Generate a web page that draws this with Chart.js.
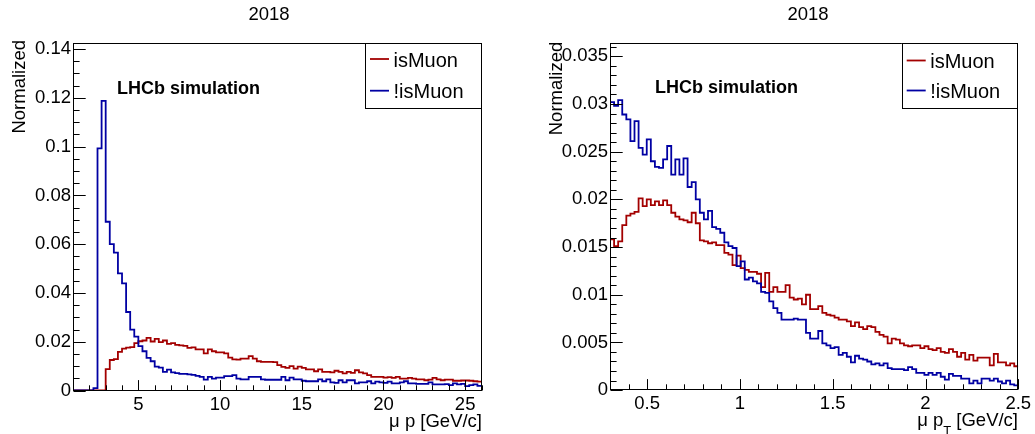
<!DOCTYPE html>
<html>
<head>
<meta charset="utf-8">
<script src="https://cdn.jsdelivr.net/npm/chart.js@4.4.1/dist/chart.umd.min.js"></script>
<style>
  html, body { margin: 0; padding: 0; background: #ffffff; }
  #wrap { position: relative; width: 1035px; height: 434px; overflow: hidden; }
  #cp  { position: absolute; left: 0;     top: 0; }
  #cpt { position: absolute; left: 517px; top: 0; }
</style>
</head>
<body>
<div id="wrap">
  <canvas id="cp" width="517" height="434"></canvas>
  <canvas id="cpt" width="518" height="434"></canvas>
</div>
<script>
// ---- muon momentum p [GeV/c]: 100 bins between the two edges ----
const pBinRange = [1, 26];
const pIsMuon = [
  0, 0, 0, 0, 0, 0, 0, 0, 0.0088, 0.0125,
  0.0129, 0.0158, 0.0172, 0.0176, 0.0178, 0.0194, 0.0202, 0.0205, 0.0216, 0.0201,
  0.0212, 0.0198, 0.0205, 0.0191, 0.0194, 0.0187, 0.0185, 0.0183, 0.0175, 0.0177,
  0.0169, 0.0169, 0.0152, 0.0169, 0.0161, 0.0156, 0.0156, 0.0152, 0.0135, 0.0128,
  0.0127, 0.0131, 0.0131, 0.0141, 0.0131, 0.0120, 0.0117, 0.0117, 0.0117, 0.0116,
  0.0104, 0.0097, 0.0093, 0.0100, 0.0090, 0.0098, 0.0093, 0.0087, 0.0087, 0.0079,
  0.0087, 0.0076, 0.0076, 0.0074, 0.0081, 0.0076, 0.0070, 0.0076, 0.0072, 0.0083,
  0.0074, 0.0070, 0.0063, 0.0056, 0.0056, 0.0056, 0.0053, 0.0055, 0.0052, 0.0056,
  0.0049, 0.0049, 0.0052, 0.0049, 0.0046, 0.0046, 0.0042, 0.0045, 0.0052, 0.0046,
  0.0042, 0.0045, 0.0045, 0.0040, 0.0040, 0.0041, 0.0041, 0.0040, 0.0038, 0.0036
];
const pNotIsMuon = [
  0, 0, 0, 0, 0, 0.0010, 0.0993, 0.1188, 0.0692, 0.0600,
  0.0565, 0.0480, 0.0439, 0.0322, 0.0250, 0.0221, 0.0182, 0.0161, 0.0134, 0.0120,
  0.0098, 0.0094, 0.0076, 0.0086, 0.0074, 0.0071, 0.0068, 0.0068, 0.0066, 0.0064,
  0.0060, 0.0056, 0.0045, 0.0056, 0.0049, 0.0053, 0.0053, 0.0059, 0.0059, 0.0063,
  0.0049, 0.0046, 0.0046, 0.0056, 0.0056, 0.0056, 0.0046, 0.0044, 0.0044, 0.0044,
  0.0044, 0.0056, 0.0042, 0.0053, 0.0046, 0.0046, 0.0040, 0.0038, 0.0038, 0.0038,
  0.0046, 0.0038, 0.0046, 0.0033, 0.0031, 0.0042, 0.0033, 0.0042, 0.0042, 0.0029,
  0.0033, 0.0033, 0.0038, 0.0029, 0.0036, 0.0033, 0.0031, 0.0036, 0.0029, 0.0029,
  0.0033, 0.0038, 0.0029, 0.0029, 0.0027, 0.0027, 0.0027, 0.0033, 0.0025, 0.0025,
  0.0025, 0.0026, 0.0022, 0.0029, 0.0025, 0.0027, 0.0018, 0.0022, 0.0025, 0.0019
];
const pXTicks = [5, 10, 15, 20, 25];
const pXTickLabels = ['5', '10', '15', '20', '25'];
const pYTicks = [0, 0.02, 0.04, 0.06, 0.08, 0.10, 0.12, 0.14];
const pYTickLabels = ['0', '0.02', '0.04', '0.06', '0.08', '0.1', '0.12', '0.14'];

// ---- muon transverse momentum pT [GeV/c]: 100 bins between the two edges ----
const ptBinRange = [0.3, 2.5];
const ptIsMuon = [
  0.0158, 0.0151, 0.0156, 0.0173, 0.0183, 0.0185, 0.0187, 0.0201, 0.0193, 0.0200,
  0.0194, 0.0198, 0.0194, 0.0199, 0.0194, 0.0186, 0.0182, 0.0179, 0.0178, 0.0176,
  0.0186, 0.0175, 0.0157, 0.0156, 0.0154, 0.0155, 0.0152, 0.0152, 0.0144, 0.0142,
  0.0131, 0.0141, 0.0128, 0.0126, 0.0124, 0.0124, 0.0122, 0.0108, 0.0123, 0.0103,
  0.0108, 0.0103, 0.0103, 0.0110, 0.0097, 0.0095, 0.0096, 0.0090, 0.0100, 0.0085,
  0.0085, 0.0088, 0.0081, 0.0079, 0.0078, 0.0076, 0.0074, 0.0074, 0.0072, 0.0067,
  0.0071, 0.0066, 0.0064, 0.0067, 0.0066, 0.0061, 0.0058, 0.0056, 0.0049, 0.0054,
  0.0053, 0.0049, 0.0047, 0.0046, 0.0047, 0.0047, 0.0044, 0.0046, 0.0043, 0.0042,
  0.0044, 0.0040, 0.0039, 0.0043, 0.0040, 0.0035, 0.0039, 0.0032, 0.0037, 0.0031,
  0.0034, 0.0034, 0.0034, 0.0026, 0.0038, 0.0029, 0.0029, 0.0026, 0.0028, 0.0025
];
const ptNotIsMuon = [
  0.0302, 0.0298, 0.0304, 0.0289, 0.0284, 0.0261, 0.0282, 0.0254, 0.0247, 0.0263,
  0.0240, 0.0234, 0.0233, 0.0242, 0.0256, 0.0226, 0.0242, 0.0226, 0.0243, 0.0213,
  0.0218, 0.0200, 0.0186, 0.0179, 0.0188, 0.0171, 0.0169, 0.0165, 0.0155, 0.0151,
  0.0149, 0.0130, 0.0135, 0.0116, 0.0118, 0.0114, 0.0112, 0.0103, 0.0102, 0.0093,
  0.0086, 0.0081, 0.0074, 0.0074, 0.0074, 0.0075, 0.0074, 0.0074, 0.0060, 0.0054,
  0.0054, 0.0062, 0.0049, 0.0047, 0.0044, 0.0045, 0.0037, 0.0039, 0.0035, 0.0029,
  0.0036, 0.0033, 0.0032, 0.0030, 0.0027, 0.0028, 0.0026, 0.0028, 0.0023, 0.0022,
  0.0022, 0.0022, 0.0021, 0.0024, 0.0022, 0.0018, 0.0018, 0.0016, 0.0018, 0.0016,
  0.0018, 0.0014, 0.0011, 0.0017, 0.0015, 0.0015, 0.0012, 0.0012, 0.0007, 0.0010,
  0.0007, 0.0012, 0.0012, 0.0010, 0.0012, 0.0009, 0.0007, 0.0010, 0.0006, 0.0005
];
const ptXTicks = [0.5, 1, 1.5, 2, 2.5];
const ptXTickLabels = ['0.5', '1', '1.5', '2', '2.5'];
const ptYTicks = [0, 0.005, 0.01, 0.015, 0.02, 0.025, 0.03, 0.035];
const ptYTickLabels = ['0', '0.005', '0.01', '0.015', '0.02', '0.025', '0.03', '0.035'];

const seriesLabels = ['isMuon', '!isMuon'];
const panelTitle = '2018';
const yTitle = 'Normalized';
const stampText = 'LHCb simulation';

// ---- styling ----
const FONT = '"Liberation Sans", Arial, Helvetica, sans-serif';
const RED = '#a30000';
const BLUE = '#0000a3';
const HIST_WIDTH = 1.8;

// Histogram outline: one point at each bin's low edge plus the upper edge.
function stepPoints(values, range) {
  const n = values.length;
  const w = (range[1] - range[0]) / n;
  const pts = values.map((v, i) => ({ x: range[0] + i * w, y: v }));
  pts.push({ x: range[1], y: values[n - 1] });
  return pts;
}

// Major and minor tick values along an axis.
function tickMarks(majors, div, min, max) {
  const step = (majors[1] - majors[0]) / div;
  const k0 = Math.ceil((min - majors[0]) / step - 1e-6);
  const k1 = Math.floor((max - majors[0]) / step + 1e-6);
  const out = [];
  for (let k = k0; k <= k1; k++) {
    out.push({ v: majors[0] + k * step, major: ((k % div) + div) % div === 0 });
  }
  return out;
}

function framePlugin(spec) {
  return {
    id: 'rootFrame',
    afterDraw(chart) {
      const { ctx, chartArea: a, scales: { x, y } } = chart;
      ctx.save();
      ctx.strokeStyle = '#000';
      ctx.lineWidth = 1;

      // frame
      const L = Math.round(a.left) + 0.5, R = Math.round(a.right) - 0.5;
      const T = Math.round(a.top) + 0.5, B = Math.round(a.bottom) - 0.5;
      ctx.strokeRect(L, T, R - L, B - T);

      // inward tick marks
      ctx.beginPath();
      tickMarks(spec.xTicks, spec.xMinorDiv, x.min, x.max).forEach(t => {
        const px = Math.round(x.getPixelForValue(t.v)) + 0.5;
        const len = t.major ? spec.xTickLen : spec.xTickLen / 2;
        ctx.moveTo(px, B);
        ctx.lineTo(px, B - len);
      });
      tickMarks(spec.yTicks, spec.yMinorDiv, y.min, y.max).forEach(t => {
        const py = Math.round(y.getPixelForValue(t.v)) + 0.5;
        const len = t.major ? spec.yTickLen : spec.yTickLen / 2;
        ctx.moveTo(L, py);
        ctx.lineTo(L + len, py);
      });
      ctx.stroke();

      ctx.fillStyle = '#000';
      ctx.textBaseline = 'alphabetic';

      // pad title
      ctx.font = '18.5px ' + FONT;
      ctx.textAlign = 'center';
      ctx.fillText(panelTitle, spec.title.x, spec.title.y);

      // y-axis title, rotated and aligned to the top of the axis
      ctx.save();
      ctx.translate(spec.yTitle.x, spec.yTitle.y);
      ctx.rotate(-Math.PI / 2);
      ctx.textAlign = 'right';
      ctx.fillText(yTitle, 0, 0);
      ctx.restore();

      // x-axis title, right-aligned at the frame end, with optional subscript
      const xt = spec.xTitle;
      const mainFont = '18.5px ' + FONT, subFont = '13px ' + FONT;
      ctx.font = mainFont;
      const w1 = ctx.measureText(xt.main).width;
      ctx.font = subFont;
      const w2 = xt.sub ? ctx.measureText(xt.sub).width : 0;
      ctx.font = mainFont;
      const w3 = xt.tail ? ctx.measureText(xt.tail).width : 0;
      let cx = R + 0.5 - (w1 + w2 + w3);
      ctx.textAlign = 'left';
      ctx.fillText(xt.main, cx, xt.y);
      cx += w1;
      if (xt.sub) {
        ctx.font = subFont;
        ctx.fillText(xt.sub, cx, xt.y + 9);
        cx += w2;
      }
      if (xt.tail) {
        ctx.font = mainFont;
        ctx.fillText(xt.tail, cx, xt.y);
      }

      // simulation stamp
      ctx.font = 'bold 18px ' + FONT;
      ctx.fillText(stampText, spec.stamp.x, spec.stamp.y);

      // legend box
      const lg = spec.legend;
      ctx.fillStyle = '#fff';
      ctx.fillRect(lg.left, T, R - lg.left, lg.bottom - T);
      ctx.strokeStyle = '#000';
      ctx.lineWidth = 1;
      ctx.strokeRect(Math.round(lg.left) + 0.5, T, R - Math.round(lg.left) - 0.5, Math.round(lg.bottom) - T + 0.5);
      ctx.font = '20px ' + FONT;
      spec.series.forEach((s, i) => {
        const ly = lg.rows[i];
        ctx.strokeStyle = s.color;
        ctx.lineWidth = HIST_WIDTH;
        ctx.beginPath();
        ctx.moveTo(lg.left + 5, ly);
        ctx.lineTo(lg.left + 24, ly);
        ctx.stroke();
        ctx.fillStyle = '#000';
        ctx.fillText(s.label, lg.left + 28.5, ly + 7.6);
      });
      ctx.restore();
    }
  };
}

function buildChart(canvasId, spec) {
  const axisFont = { family: FONT, size: 18.5 };
  return new Chart(document.getElementById(canvasId), {
    type: 'line',
    data: {
      datasets: spec.series.map(s => ({
        label: s.label,
        data: stepPoints(s.values, spec.binRange),
        borderColor: s.color,
        borderWidth: HIST_WIDTH,
        pointRadius: 0,
        pointHoverRadius: 0,
        stepped: 'before',
        fill: false,
        tension: 0,
        order: s.order
      }))
    },
    options: {
      responsive: false,
      animation: false,
      devicePixelRatio: 1,
      events: [],
      layout: { padding: spec.padding },
      plugins: {
        legend: { display: false },
        tooltip: { enabled: false },
        title: { display: false }
      },
      scales: {
        x: {
          type: 'linear',
          bounds: 'data',
          min: spec.binRange[0],
          max: spec.binRange[1],
          grid: { display: false, drawTicks: false },
          border: { display: false },
          afterBuildTicks: sc => { sc.ticks = spec.xTicks.map(v => ({ value: v })); },
          afterFit: sc => { sc.height = spec.xAxisHeight; },
          ticks: {
            font: axisFont, color: '#000', padding: 3,
            maxRotation: 0, minRotation: 0, autoSkip: false,
            callback: (v, i) => spec.xTickLabels[i]
          }
        },
        y: {
          type: 'linear',
          bounds: 'data',
          min: 0,
          max: spec.yMax,
          grid: { display: false, drawTicks: false },
          border: { display: false },
          afterBuildTicks: sc => { sc.ticks = spec.yTicks.map(v => ({ value: v })); },
          afterFit: sc => { sc.width = spec.yAxisWidth; },
          ticks: {
            font: axisFont, color: '#000', padding: 2, autoSkip: false,
            callback: (v, i) => spec.yTickLabels[i]
          }
        }
      }
    },
    plugins: [framePlugin(spec)]
  });
}

// Left pad: momentum
buildChart('cp', {
  binRange: pBinRange,
  series: [
    { label: seriesLabels[0], values: pIsMuon, color: RED, order: 1 },
    { label: seriesLabels[1], values: pNotIsMuon, color: BLUE, order: 0 }
  ],
  xTicks: pXTicks, xTickLabels: pXTickLabels,
  yTicks: pYTicks, yTickLabels: pYTickLabels,
  yMax: 0.1425,
  xMinorDiv: 5, yMinorDiv: 4,
  xTickLen: 10.4, yTickLen: 12.2,
  padding: { left: 0, right: 35.5, top: 43, bottom: 0 },
  yAxisWidth: 73, xAxisHeight: 43.5,
  title: { x: 269, y: 20 },
  yTitle: { x: 25, y: 40 },
  xTitle: { main: '\u03bc p [GeV/c]', y: 427 },
  stamp: { x: 117, y: 93.5 },
  legend: { left: 365, bottom: 107.7, rows: [59, 90.7] }
});

// Right pad: transverse momentum
buildChart('cpt', {
  binRange: ptBinRange,
  series: [
    { label: seriesLabels[0], values: ptIsMuon, color: RED, order: 1 },
    { label: seriesLabels[1], values: ptNotIsMuon, color: BLUE, order: 0 }
  ],
  xTicks: ptXTicks, xTickLabels: ptXTickLabels,
  yTicks: ptYTicks, yTickLabels: ptYTickLabels,
  yMax: 0.0364,
  xMinorDiv: 5, yMinorDiv: 5,
  xTickLen: 10.4, yTickLen: 12.2,
  padding: { left: 0, right: 16.7, top: 43, bottom: 0 },
  yAxisWidth: 93, xAxisHeight: 43.9,
  title: { x: 291, y: 20 },
  yTitle: { x: 44.7, y: 41.7 },
  xTitle: { main: '\u03bc p', sub: 'T', tail: ' [GeV/c]', y: 425.5 },
  stamp: { x: 138, y: 93.3 },
  legend: { left: 384.7, bottom: 107.7, rows: [60.5, 90.5] }
});
</script>
</body>
</html>
